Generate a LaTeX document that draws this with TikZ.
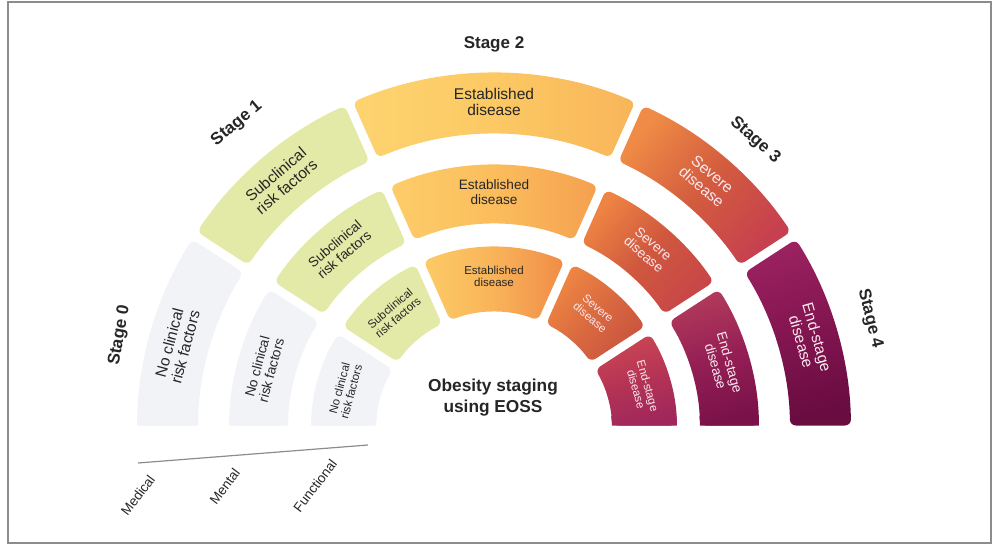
\documentclass[tikz,border=0pt]{standalone}
\usepackage{fontspec}
\setmainfont{Liberation Sans}
\usetikzlibrary{arrows.meta}
\tikzset{>=stealth}

\definecolor{framegray}{HTML}{8C8C8C}
\definecolor{inkgray}{HTML}{262626}
\definecolor{palepink}{HTML}{FBE9F0}

\definecolor{s0-outer-a}{HTML}{F2F3F7}
\definecolor{s0-outer-m}{HTML}{F2F3F7}
\definecolor{s0-outer-b}{HTML}{F2F3F7}
\definecolor{s0-middle-a}{HTML}{F2F3F7}
\definecolor{s0-middle-m}{HTML}{F2F3F7}
\definecolor{s0-middle-b}{HTML}{F2F3F7}
\definecolor{s0-inner-a}{HTML}{F2F3F7}
\definecolor{s0-inner-m}{HTML}{F2F3F7}
\definecolor{s0-inner-b}{HTML}{F2F3F7}

\definecolor{s1-outer-a}{HTML}{E3E9A7}
\definecolor{s1-outer-m}{HTML}{E3E9A7}
\definecolor{s1-outer-b}{HTML}{E3E9A7}
\definecolor{s1-middle-a}{HTML}{E3E9A7}
\definecolor{s1-middle-m}{HTML}{E3E9A7}
\definecolor{s1-middle-b}{HTML}{E3E9A7}
\definecolor{s1-inner-a}{HTML}{E3E9A7}
\definecolor{s1-inner-m}{HTML}{E3E9A7}
\definecolor{s1-inner-b}{HTML}{E3E9A7}

\definecolor{s2-outer-a}{HTML}{FDD470}
\definecolor{s2-outer-m}{HTML}{FCC964}
\definecolor{s2-outer-b}{HTML}{F8B55A}
\definecolor{s2-middle-a}{HTML}{FDCD69}
\definecolor{s2-middle-m}{HTML}{FBBD5D}
\definecolor{s2-middle-b}{HTML}{F5A04F}
\definecolor{s2-inner-a}{HTML}{FCCB66}
\definecolor{s2-inner-m}{HTML}{F9B359}
\definecolor{s2-inner-b}{HTML}{F08C47}

\definecolor{s3-outer-a}{HTML}{EF8B46}
\definecolor{s3-outer-m}{HTML}{D35C3E}
\definecolor{s3-outer-b}{HTML}{C6404F}
\definecolor{s3-middle-a}{HTML}{EE8443}
\definecolor{s3-middle-m}{HTML}{D0583E}
\definecolor{s3-middle-b}{HTML}{C84648}
\definecolor{s3-inner-a}{HTML}{EF8743}
\definecolor{s3-inner-m}{HTML}{DA6A40}
\definecolor{s3-inner-b}{HTML}{C9533F}

\definecolor{s4-outer-a}{HTML}{9B2160}
\definecolor{s4-outer-m}{HTML}{821550}
\definecolor{s4-outer-b}{HTML}{690C40}
\definecolor{s4-middle-a}{HTML}{B23A5C}
\definecolor{s4-middle-m}{HTML}{951F55}
\definecolor{s4-middle-b}{HTML}{7A1249}
\definecolor{s4-inner-a}{HTML}{CB4653}
\definecolor{s4-inner-m}{HTML}{B53455}
\definecolor{s4-inner-b}{HTML}{A0275C}

\tikzset{
	stagelabel/.style={font=\bfseries\fontsize{17}{17}\selectfont, text=inkgray},
	bandtext/.style={align=center, inner sep=0pt},
	bandshade/.style={left color=#1-a, right color=#1-b, middle color=#1-m, shading angle=\angm},
	axislabel/.style={anchor=east, rotate=53, font=\fontsize{13.5}{13.5}\selectfont, text=inkgray}
}

\newcommand{\band}[6]{%
	\pgfmathsetmacro\ango{asin(4.5/#5)}%
	\pgfmathsetmacro\angi{asin(4.5/#4)}%
	\pgfmathsetmacro\angm{(#2+#3)/2}%
	\pgfmathsetmacro\sao{#2-\ango}%
	\pgfmathsetmacro\eao{#3+\ango}%
	\pgfmathsetmacro\sai{#3+\angi}%
	\pgfmathsetmacro\eai{#2-\angi}%
	\shade [bandshade=#1, rounded corners=6pt]
		(\sao:#5) arc [start angle=\sao, end angle=\eao, radius=#5]
		-- (\sai:#4) arc [start angle=\sai, end angle=\eai, radius=#4] -- cycle;
	\ifnum#6=1
	\begin{scope}
		\clip (-400,0) rectangle (400,14);
		\shade [bandshade=#1]
			(\sao:#5) arc [start angle=\sao, end angle=\eao, radius=#5]
			-- (\sai:#4) arc [start angle=\sai, end angle=\eai, radius=#4] -- cycle;
	\end{scope}
	\fi
}

\begin{document}
\begin{tikzpicture}[x=1pt, y=1pt]
	\useasboundingbox (0,0) rectangle (1000,544);
	\draw [framegray, line width=1.5pt] (8,1) rectangle (991,542);
	\begin{scope}[shift={(494,114)}]
	\foreach \rn/\ri/\ro/\rt/\fs in {outer/296/357/328/15.5, middle/206/265/238/13.6, inner/118/183/154/11.5} {
		\foreach \sn/\a/\b/\ta/\txt/\tc in {0/180/147/165/{No clinical\\risk factors}/inkgray, 1/147/114/130.5/{Subclinical\\risk factors}/inkgray, 2/114/66/90/{Established\\disease}/inkgray, 3/66/33/49.5/{Severe\\disease}/palepink, 4/33/0/16/{End-stage\\disease}/palepink} {
			\pgfmathtruncatemacro\flat{(\sn==0) || ((\sn==4) && (\ri<250))}
			\band{s\sn-\rn}{\a}{\b}{\ri}{\ro}{\flat}
			\pgfmathsetmacro\bs{\fs*1.06}
			\node (\rn-\sn) at (\ta:\rt) [bandtext, text=\tc, rotate=\ta-90, font=\fontsize{\fs}{\bs}\selectfont] {\txt};
		}
	}
	\foreach \s/\ang/\r/\rot in {0/165.8/386/80, 1/130/400/40, 2/90/386/0, 3/48/390/-41.5, 4/16.5/392/-76}
	\node (stage\s) at (\ang:\r) [stagelabel, rotate=\rot] {Stage \s};
	\end{scope}
	\node (title) at (493,146) [align=center, text=inkgray, font=\bfseries\fontsize{17.3}{21}\selectfont] {Obesity staging\\using EOSS};
	\coordinate (axisL) at (138,81);
	\coordinate (axisR) at (368,99);
	\draw [framegray, line width=1.2pt] (axisL) -- (axisR);
	\node (medical) at (154,70) [axislabel] {Medical};
	\node (mental) at (239,77) [axislabel] {Mental};
	\node (functional) at (336,86) [axislabel] {Functional};
\end{tikzpicture}
\end{document}
